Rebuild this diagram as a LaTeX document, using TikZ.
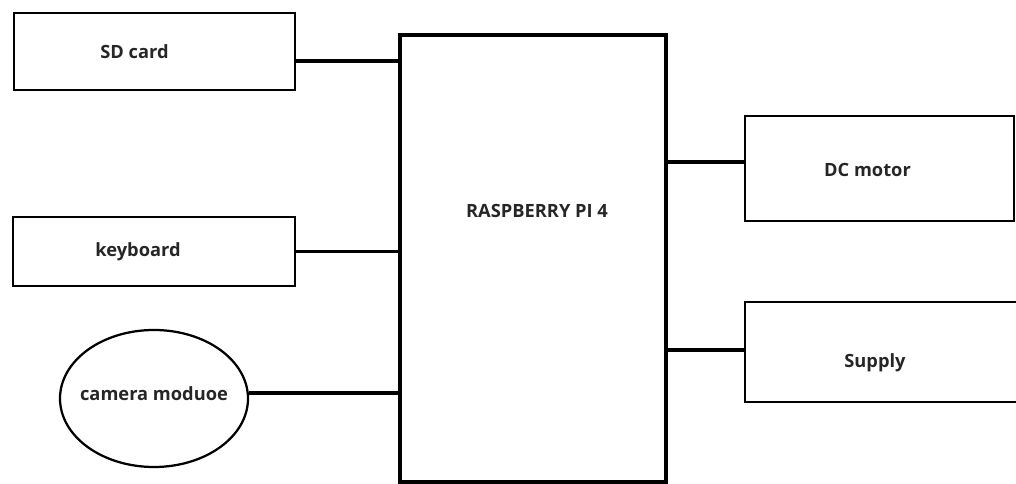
\documentclass[tikz,border=0pt]{standalone}
\usepackage{fontspec}
\setmainfont{Open Sans}
\usetikzlibrary{shapes.geometric}

\begin{document}
\begin{tikzpicture}[
  block/.style={rectangle, draw, line width=2pt, inner sep=0pt},
  txt/.style={font=\fontsize{13}{15}\selectfont\bfseries, text=black!85},
  link/.style={line width=2.8pt},
  font=\fontsize{13}{15}\selectfont\bfseries
]
\useasboundingbox (0,0) rectangle (25.4,12.1);

\node[block, minimum width=7.025cm, minimum height=1.925cm,
  label={[txt, anchor=center, xshift=-0.5cm]center:SD card}] (sd) at (3.8625,10.8125) {};
\node[block, minimum width=7.05cm, minimum height=1.725cm,
  label={[txt, anchor=center, xshift=-0.4cm]center:keyboard}] (kbd) at (3.85,5.8125) {};
\node[ellipse, draw, line width=1.6pt, inner sep=0pt, minimum width=4.7cm, minimum height=3.425cm,
  label={[txt, anchor=center, yshift=0.13cm]center:camera moduoe}] (cam) at (3.85,2.1375) {};
\node[block, line width=2.8pt, minimum width=6.65cm, minimum height=11.175cm,
  label={[txt, anchor=center, xshift=0.1cm, yshift=1.2cm]center:RASPBERRY PI 4}] (pi) at (13.325,5.6375) {};
\node[block, minimum width=6.725cm, minimum height=2.625cm,
  label={[txt, anchor=center, xshift=-0.3cm, yshift=-0.04cm]center:DC motor}] (dc) at (21.9875,7.8875) {};
\node[block, minimum width=7cm, minimum height=2.5cm,
  label={[txt, anchor=center, xshift=-0.25cm, yshift=-0.28cm]center:Supply}] (sup) at (22.125,3.3) {};

% Connections
\draw[link] ([yshift=-0.24cm]sd.east) -- ([yshift=-0.24cm]sd.east -| pi.west);
\draw[link] (kbd.east) -- (kbd.east -| pi.west);
\draw[link] ([yshift=0.14cm]cam.east) -- ([yshift=0.14cm]cam.east -| pi.west);
\draw[link] ([yshift=0.16cm]dc.west -| pi.east) -- ([yshift=0.16cm]dc.west);
\draw[link] ([yshift=0.05cm]sup.west -| pi.east) -- ([yshift=0.05cm]sup.west);
\end{tikzpicture}
\end{document}
